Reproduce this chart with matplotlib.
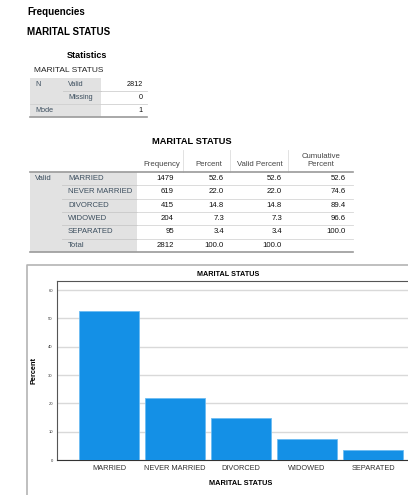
import matplotlib
matplotlib.use("Agg")
import matplotlib.pyplot as plt
from matplotlib.patches import Rectangle

plt.rcParams['font.family'] = ['Liberation Sans', 'DejaVu Sans']

# statistics table
stat_rows = ["Valid", "Missing"]
stat_values = [2812, 0]
mode_value = 1

# frequency table
categories = ["MARRIED", "NEVER MARRIED", "DIVORCED", "WIDOWED", "SEPARATED"]
frequency = [1479, 619, 415, 204, 95]
percent = [52.6, 22.0, 14.8, 7.3, 3.4]
valid_percent = [52.6, 22.0, 14.8, 7.3, 3.4]
cumulative = [52.6, 74.6, 89.4, 96.6, 100.0]
totals = ["2812", "100.0", "100.0"]

W, H = 408, 495
fig = plt.figure(figsize=(W / 100, H / 100), dpi=100)

# background axes in pixel coordinates for the tables
bg = fig.add_axes([0, 0, 1, 1])
bg.set_xlim(0, W)
bg.set_ylim(H, 0)
bg.axis("off")

lab_col = "#3d4f5f"
num_col = "#111111"
grey = "#e2e2e2"
fs = 5.6

bg.text(27, 12, "Frequencies", fontsize=7, fontweight="bold", va="center")
bg.text(27, 32, "MARITAL STATUS", fontsize=7, fontweight="bold", va="center")

# --- Statistics table ---
bg.text(87, 55, "Statistics", fontsize=6.5, fontweight="bold", ha="center", va="center")
bg.text(34, 71, "MARITAL STATUS", fontsize=6, color="#222222", va="center")
bg.add_patch(Rectangle((30, 78), 71, 39, color=grey, lw=0))
row_y = [78, 91, 104, 117]
for i, (lab, val) in enumerate(zip(stat_rows, stat_values)):
    yc = (row_y[i] + row_y[i + 1]) / 2
    bg.text(68, yc, lab, fontsize=5.2, color=lab_col, va="center")
    bg.text(143, yc, str(val), fontsize=5.2, color=num_col, va="center", ha="right")
bg.text(35, 84.5, "N", fontsize=5.2, color=lab_col, va="center")
bg.text(35, 110.5, "Mode", fontsize=5.2, color=lab_col, va="center")
bg.text(143, 110.5, str(mode_value), fontsize=5.2, color=num_col, va="center", ha="right")
bg.plot([101, 147], [91, 91], color="#d0d0d0", lw=0.6)
bg.plot([63, 101], [91, 91], color="#c8c8c8", lw=0.6)
bg.plot([30, 147], [104, 104], color="#d0d0d0", lw=0.6)
bg.plot([30, 147], [117, 117], color="#9a9a9a", lw=1.2)

# --- Frequency table ---
bg.text(192, 141, "MARITAL STATUS", fontsize=6.7, fontweight="bold", ha="center", va="center")
heads = ["Frequency", "Percent", "Valid Percent"]
head_x = [162, 209, 260]
for hx, h in zip(head_x, heads):
    bg.text(hx, 165, h, fontsize=fs, color="#444444", ha="center", va="center")
bg.text(321, 156, "Cumulative", fontsize=fs, color="#444444", ha="center", va="center")
bg.text(321, 165, "Percent", fontsize=fs, color="#444444", ha="center", va="center")
for vx in [183, 230, 288]:
    bg.plot([vx, vx], [150, 172], color="#dddddd", lw=0.6)
bg.plot([30, 353], [172, 172], color="#9a9a9a", lw=1.2)

top, rh = 172, 13.3
bg.add_patch(Rectangle((30, top), 107, rh * 6, color=grey, lw=0, zorder=0))
bg.text(35, top + rh / 2, "Valid", fontsize=fs, color=lab_col, va="center")
num_x = [174, 224, 282, 346]
for i, cat in enumerate(categories):
    yc = top + rh * (i + 0.5)
    bg.text(68, yc, cat, fontsize=fs, color=lab_col, va="center")
    vals = [str(frequency[i]), f"{percent[i]:.1f}", f"{valid_percent[i]:.1f}", f"{cumulative[i]:.1f}"]
    for x, v in zip(num_x, vals):
        bg.text(x, yc, v, fontsize=fs, color=num_col, va="center", ha="right")
    yl = top + rh * (i + 1)
    bg.plot([62, 137], [yl, yl], color="#c8c8c8", lw=0.6)
    bg.plot([137, 353], [yl, yl], color="#d6d6d6", lw=0.6)
yc = top + rh * 5.5
bg.text(68, yc, "Total", fontsize=fs, color=lab_col, va="center")
for x, v in zip(num_x[:3], totals):
    bg.text(x, yc, v, fontsize=fs, color=num_col, va="center", ha="right")
bg.plot([30, 353], [top + rh * 6, top + rh * 6], color="#9a9a9a", lw=1.2)

# --- chart frame ---
bg.plot([27, 27, W], [H, 265, 265], color="#b4b4b4", lw=1.2)
bg.text(228, 275, "MARITAL STATUS", fontsize=5.2, fontweight="bold", ha="center", va="center")

# --- bar chart ---
ax_l, ax_r, ax_t, ax_b = 57, 425, 281, 460
ax = fig.add_axes([ax_l / W, (H - ax_b) / H, (ax_r - ax_l) / W, (ax_b - ax_t) / H])
x = list(range(len(categories)))
ax.bar(x, percent, width=0.909, color="#1490e6", edgecolor="#6cbcf2", linewidth=0.6, zorder=3)
ax.set_xlim(-0.788, 4.788)
ax.set_ylim(0, 63.2)
ax.set_yticks([0, 10, 20, 30, 40, 50, 60])
ax.yaxis.grid(True, color="#d9d9d9", lw=1, zorder=0)
ax.set_axisbelow(True)
ax.tick_params(axis="y", labelsize=3, length=0, pad=3, labelcolor="#333333")
ax.set_xticks(x)
ax.set_xticklabels(categories)
ax.tick_params(axis="x", labelsize=5.3, length=0, pad=3.5, labelcolor="#333333")
for s in ["left", "top"]:
    ax.spines[s].set_color("#555555")
    ax.spines[s].set_linewidth(0.8)
ax.spines["bottom"].set_color("#333333")
ax.spines["bottom"].set_linewidth(0.8)
ax.spines["right"].set_visible(False)
ax.set_xlabel("MARITAL STATUS", fontsize=5.3, fontweight="bold", labelpad=6)
ax.set_ylabel("Percent", fontsize=5.3, fontweight="bold", labelpad=8)

fig.savefig("out.png", dpi=100)
